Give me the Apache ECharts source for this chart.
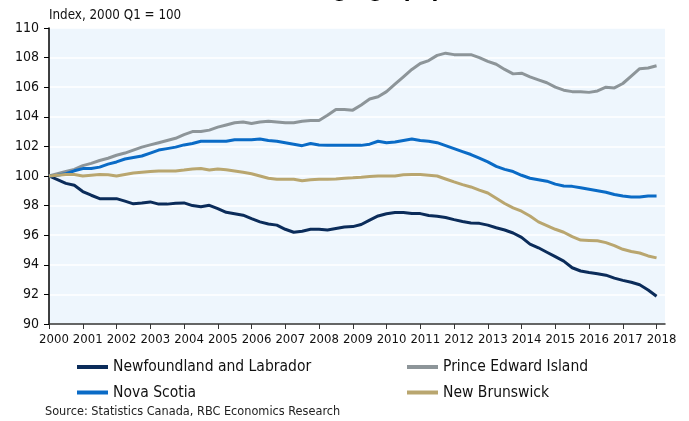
<!DOCTYPE html>
<html>
<head>
<meta charset="utf-8">
<script src="https://cdn.jsdelivr.net/npm/echarts@6/dist/echarts.min.js"></script>
<style>
html,body{margin:0;padding:0;background:#fff;}
#c{width:689px;height:421px;}
</style>
</head>
<body>
<div id="c"></div>
<script>
const years = [2000,2001,2002,2003,2004,2005,2006,2007,2008,2009,2010,2011,2012,2013,2014,2015,2016,2017,2018];
const quarterNames = ['Q1','Q2','Q3','Q4'];
const yTicks = {min: 90, max: 110, interval: 2};

const newfoundland = [100.0,99.75,99.5,99.37,98.95,98.7,98.47,98.47,98.47,98.3,98.12,98.18,98.25,98.1,98.1,98.16,98.18,98.0,97.92,98.02,97.8,97.55,97.45,97.35,97.12,96.9,96.76,96.68,96.4,96.2,96.27,96.4,96.4,96.35,96.45,96.55,96.58,96.72,97.02,97.3,97.45,97.53,97.53,97.47,97.46,97.33,97.28,97.2,97.05,96.92,96.83,96.8,96.68,96.5,96.35,96.15,95.85,95.4,95.15,94.85,94.55,94.25,93.8,93.58,93.48,93.4,93.3,93.1,92.95,92.82,92.65,92.3,91.88];
const pei = [100.0,100.15,100.3,100.45,100.7,100.85,101.05,101.2,101.4,101.55,101.75,101.95,102.1,102.25,102.4,102.55,102.8,103.0,103.0,103.1,103.3,103.45,103.6,103.65,103.55,103.65,103.7,103.65,103.6,103.6,103.7,103.75,103.75,104.1,104.5,104.5,104.45,104.8,105.2,105.35,105.7,106.2,106.7,107.2,107.6,107.8,108.15,108.3,108.2,108.2,108.2,108.0,107.75,107.55,107.2,106.9,106.95,106.7,106.5,106.3,106.0,105.8,105.7,105.7,105.65,105.75,106.0,105.95,106.25,106.75,107.25,107.3,107.45];
const novaScotia = [100.0,100.05,100.15,100.35,100.5,100.5,100.6,100.8,100.95,101.15,101.25,101.35,101.55,101.75,101.85,101.95,102.1,102.2,102.35,102.35,102.35,102.35,102.45,102.45,102.45,102.5,102.4,102.35,102.25,102.15,102.05,102.2,102.1,102.07,102.07,102.07,102.07,102.07,102.15,102.35,102.25,102.3,102.4,102.5,102.4,102.35,102.25,102.05,101.85,101.65,101.45,101.2,100.95,100.65,100.45,100.3,100.05,99.85,99.75,99.65,99.45,99.33,99.3,99.2,99.1,99.0,98.9,98.75,98.65,98.58,98.58,98.65,98.65];
const newBrunswick = [100.0,100.05,100.1,100.1,100.0,100.05,100.1,100.08,100.0,100.1,100.2,100.25,100.3,100.34,100.34,100.34,100.4,100.48,100.5,100.4,100.48,100.42,100.34,100.25,100.15,100.0,99.85,99.78,99.78,99.78,99.68,99.75,99.78,99.78,99.8,99.85,99.88,99.92,99.97,100.0,100.0,100.0,100.08,100.1,100.1,100.05,100.0,99.8,99.6,99.42,99.26,99.05,98.85,98.5,98.14,97.85,97.62,97.3,96.9,96.65,96.4,96.2,95.9,95.67,95.65,95.62,95.5,95.3,95.05,94.9,94.8,94.6,94.47];

const seriesNames = ['Newfoundland and Labrador','Prince Edward Island','Nova Scotia','New Brunswick'];
const seriesColors = ['#0B2C5A','#8D9599','#0A6BC6','#B9A66F'];

const categories = [];
years.forEach(y => quarterNames.forEach(q => categories.push(y + ' ' + q)));
categories.length = newfoundland.length + 1;

const FONT = '"DejaVu Sans Condensed","DejaVu Sans",sans-serif';
const chart = echarts.init(document.getElementById('c'));
const dataSets = [newfoundland, pei, novaScotia, newBrunswick];

chart.setOption({
  animation: false,
  textStyle: {fontFamily: FONT},
  title: {
    text: 'Working-age population',
    left: 250, top: -25,
    textStyle: {fontFamily: FONT, fontSize: 22, fontWeight: 'bold', color: '#000'}
  },
  grid: {left: 49, right: 24, top: 28, bottom: 97, show: true, backgroundColor: '#EEF6FD', borderWidth: 0},
  xAxis: {
    type: 'category',
    data: categories,
    boundaryGap: false,
    axisLine: {lineStyle: {color: '#333', width: 1.5}},
    axisTick: {interval: 3, length: 5, lineStyle: {color: '#333'}},
    axisLabel: {
      interval: 3, margin: 9, padding: [0,0,0,10],
      color: '#111', fontSize: 13, fontFamily: FONT,
      formatter: v => v ? v.split(' ')[0] : ''
    },
    splitLine: {show: false}
  },
  yAxis: {
    type: 'value',
    min: yTicks.min, max: yTicks.max, interval: yTicks.interval,
    axisLine: {show: true, lineStyle: {color: '#000', width: 1.5}},
    axisTick: {show: true, length: 5, lineStyle: {color: '#000'}},
    axisLabel: {color: '#111', fontSize: 14, margin: 10, fontFamily: FONT},
    splitLine: {lineStyle: {color: '#FFFFFF', width: 1.5}}
  },
  legend: [
    {
      data: [seriesNames[0], seriesNames[2]],
      orient: 'vertical', left: 72, top: 353, padding: 5,
      itemWidth: 31, itemHeight: 4, itemGap: 7.5, icon: 'rect',
      textStyle: {fontSize: 15.5, color: '#111', fontFamily: FONT, lineHeight: 18}
    },
    {
      data: [seriesNames[1], seriesNames[3]],
      orient: 'vertical', left: 402, top: 353, padding: 5,
      itemWidth: 31, itemHeight: 4, itemGap: 7.5, icon: 'rect',
      textStyle: {fontSize: 15.5, color: '#111', fontFamily: FONT, lineHeight: 18}
    }
  ],
  graphic: [
    {type: 'text', left: 49, top: 9, style: {text: 'Index, 2000 Q1 = 100', fontSize: 13.3, fill: '#111', fontFamily: FONT}},
    {type: 'text', left: 45, top: 405, style: {text: 'Source: Statistics Canada, RBC Economics Research', fontSize: 12.6, fill: '#222', fontFamily: FONT}}
  ],
  series: seriesNames.map((n, i) => ({
    name: n, type: 'line', data: dataSets[i], showSymbol: false, symbol: 'none',
    lineStyle: {width: 3, color: seriesColors[i]}, itemStyle: {color: seriesColors[i]}
  }))
});
</script>
</body>
</html>
